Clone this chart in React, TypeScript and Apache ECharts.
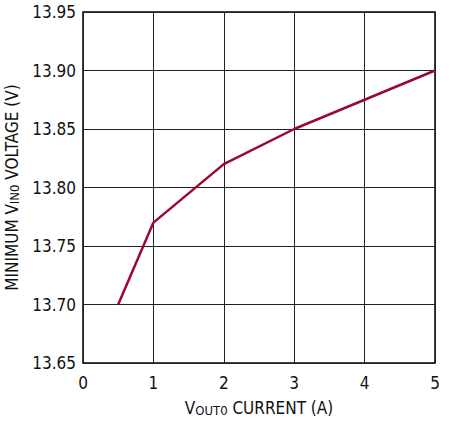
import React, { useEffect, useRef } from "react";
import * as echarts from "echarts";

const xValues = [0.5, 1, 2, 3, 4, 5];
const yValues = [13.7, 13.77, 13.82, 13.85, 13.875, 13.9];
const FONT = "'DejaVu Sans Condensed', 'Liberation Sans Narrow', sans-serif";

export default function App() {
  const ref = useRef<HTMLDivElement>(null);
  useEffect(() => {
    const chart = echarts.init(ref.current!, null, { renderer: "svg" });
    const sub = { fontSize: 13, fontFamily: FONT, color: "#111", verticalAlign: "bottom", padding: [5, 0, 0, 0] };
    chart.setOption({
      animation: false,
      grid: { left: 83, right: 18, top: 12, bottom: 60, show: true, borderColor: "#000", borderWidth: 1.5, containLabel: false, outerBoundsMode: "none" },
      xAxis: {
        type: "value",
        min: 0,
        max: 5,
        interval: 1,
        axisLine: { show: false },
        axisTick: { show: false },
        splitLine: { show: true, lineStyle: { color: "#222", width: 1 } },
        axisLabel: { color: "#111", fontSize: 17, fontFamily: FONT, margin: 11 },
        name: "V{sub|OUT0} CURRENT (A)",
        nameLocation: "middle",
        nameGap: 36,
        nameTextStyle: {
          color: "#111",
          fontSize: 17,
          fontFamily: FONT,
          verticalAlign: "top",
          rich: { sub },
        },
      },
      yAxis: {
        type: "value",
        min: 13.65,
        max: 13.95,
        interval: 0.05,
        axisLine: { show: false },
        axisTick: { show: false },
        splitLine: { show: true, lineStyle: { color: "#222", width: 1 } },
        axisLabel: { color: "#111", fontSize: 17, fontFamily: FONT, margin: 7, formatter: (v: number) => v.toFixed(2) },
        name: "MINIMUM V{sub|IN0} VOLTAGE (V)",
        nameLocation: "middle",
        nameGap: 50,
        nameTextStyle: {
          color: "#111",
          fontSize: 17,
          fontFamily: FONT,
          rich: { sub },
        },
      },
      series: [
        {
          type: "line",
          data: xValues.map((x, i) => [x, yValues[i]]),
          symbol: "none",
          lineStyle: { color: "#9b0a2e", width: 2.5 },
        },
      ],
    });
    return () => chart.dispose();
  }, []);
  return <div ref={ref} style={{ position: "fixed", left: 0, top: 0, width: 453, height: 423, background: "#fff" }} />;
}
